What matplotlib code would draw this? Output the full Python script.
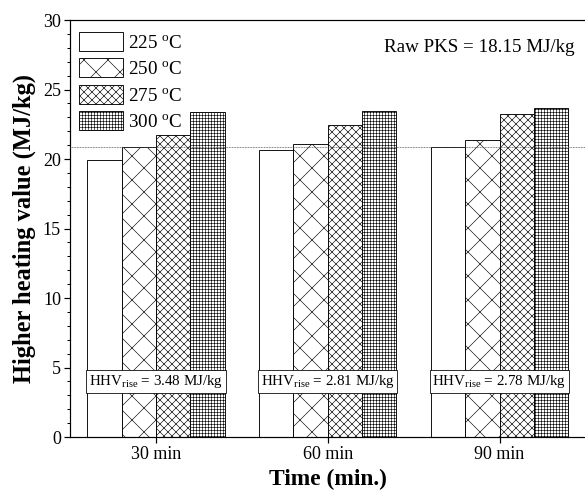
import numpy as np
import matplotlib
matplotlib.use('Agg')
import matplotlib.pyplot as plt
from matplotlib.ticker import MultipleLocator

plt.rcParams['font.family'] = ['Liberation Serif', 'DejaVu Serif']
plt.rcParams['mathtext.fontset'] = 'custom'
plt.rcParams['mathtext.rm'] = 'Liberation Serif'
plt.rcParams['mathtext.it'] = 'Liberation Serif:italic'
plt.rcParams['hatch.linewidth'] = 0.6

times = ['30 min', '60 min', '90 min']
temps = ['225', '250', '275', '300']
hhv_225 = [19.90, 20.62, 20.85]
hhv_250 = [20.85, 21.10, 21.35]
hhv_275 = [21.70, 22.45, 23.25]
hhv_300 = [23.38, 23.43, 23.65]
hhv_rise = [3.48, 2.81, 2.78]
raw_pks = 18.15
ref_line = 20.88

series = [hhv_225, hhv_250, hhv_275, hhv_300]
hatches = ['', 'x', 'xxx', '++++']

fig = plt.figure(figsize=(585 / 72, 499 / 72), dpi=72)
ax = fig.add_axes([0.1197, 0.1242, 0.881, 0.8357])

x = np.arange(len(times))
w = 0.2
for i, vals in enumerate(series):
    ax.bar(x + (i - 1.5) * w, vals, width=w, color='white', edgecolor='black',
           hatch=hatches[i], linewidth=0.9, label=temps[i] + r' $^{\mathrm{o}}$C', zorder=2)

# raw PKS reference level
ax.axhline(ref_line, color='#444444', linestyle=(0, (1, 1)), linewidth=0.8, zorder=3)

for i, r in enumerate(hhv_rise):
    ax.text(x[i], 4, r'HHV$_{\mathrm{rise}}$ = %.2f MJ/kg' % r, ha='center', va='center',
            fontsize=15, zorder=4,
            bbox=dict(boxstyle='square,pad=0.18', facecolor='white', edgecolor='black', linewidth=0.8))

ax.text(0.98, 0.955, 'Raw PKS = %.2f MJ/kg' % raw_pks, transform=ax.transAxes,
        ha='right', va='top', fontsize=19)

ax.set_xlim(-0.5, 2.5)
ax.set_ylim(0, 30)
ax.set_xticks(x)
ax.set_xticklabels(times)
ax.yaxis.set_major_locator(MultipleLocator(5))
ax.yaxis.set_minor_locator(MultipleLocator(1))
ax.tick_params(axis='both', labelsize=18, direction='out', width=1.2)
ax.tick_params(axis='both', which='major', length=6, pad=3)
ax.tick_params(axis='y', which='minor', length=3, width=1.0)

ax.set_xlabel('Time (min.)', fontsize=23.5, fontweight='bold', labelpad=6)
ax.set_ylabel('Higher heating value (MJ/kg)', fontsize=24.5, fontweight='bold', labelpad=7)

for s in ['left', 'bottom', 'top']:
    ax.spines[s].set_linewidth(1.2)
ax.spines['right'].set_visible(False)

ax.legend(loc='upper left', bbox_to_anchor=(0.018, 0.972), frameon=False, fontsize=19,
          handlelength=2.3, handleheight=1.15, labelspacing=0.35, handletextpad=0.25,
          borderpad=0, borderaxespad=0)

fig.savefig('out.png', dpi=72)
